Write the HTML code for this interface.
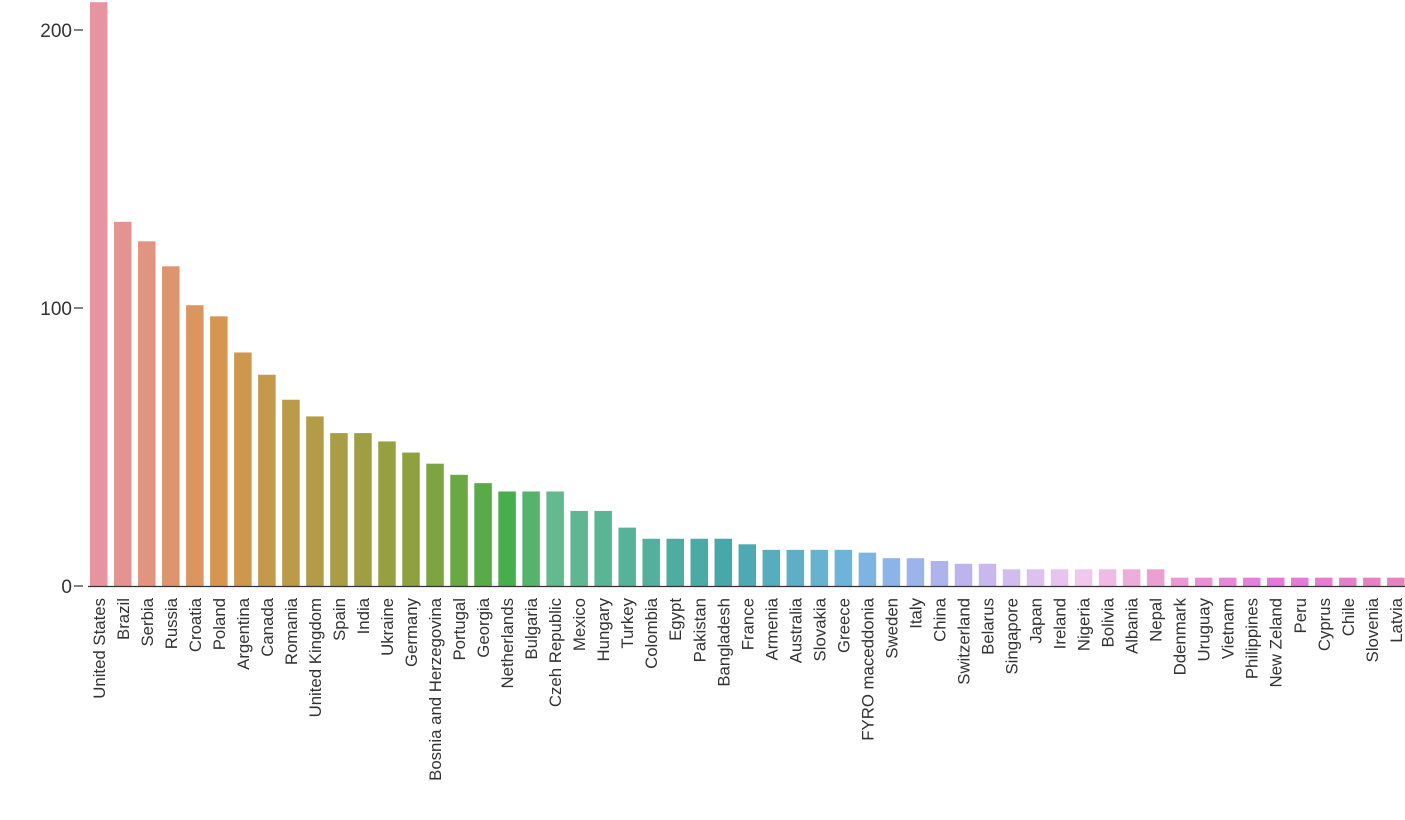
<!DOCTYPE html>
<html><head><meta charset="utf-8"><style>
html,body{margin:0;padding:0;background:#fff;}
svg{display:block;font-family:"Liberation Sans",sans-serif;}
</style></head><body>
<svg id="chart" width="1405" height="820" viewBox="0 0 1405 820"></svg>
<script>
const countries=["United States","Brazil","Serbia","Russia","Croatia","Poland","Argentina","Canada","Romania","United Kingdom","Spain","India","Ukraine","Germany","Bosnia and Herzegovina","Portugal","Georgia","Netherlands","Bulgaria","Czeh Republic","Mexico","Hungary","Turkey","Colombia","Egypt","Pakistan","Bangladesh","France","Armenia","Australia","Slovakia","Greece","FYRO maceddonia","Sweden","Italy","China","Switzerland","Belarus","Singapore","Japan","Ireland","Nigeria","Bolivia","Albania","Nepal","Ddenmark","Uruguay","Vietnam","Philippines","New Zeland","Peru","Cyprus","Chile","Slovenia","Latvia"];
const values=[210,131,124,115,101,97,84,76,67,61,55,55,52,48,44,40,37,34,34,34,27,27,21,17,17,17,17,15,13,13,13,13,12,10,10,9,8,8,6,6,6,6,6,6,6,3,3,3,3,3,3,3,3,3,3];
const yTicks=[0,100,200];
const anchors=[[0,[232,148,160]],[5,[214,150,80]],[13,[142,161,62]],[17,[70,174,74]],[19,[98,186,142]],[26,[70,168,168]],[31,[110,180,218]],[33,[141,180,232]],[36,[190,180,237]],[41,[240,200,238]],[44,[236,160,210]],[49,[230,120,220]],[54,[232,130,190]]];
function colorAt(i){for(let k=0;k<anchors.length-1;k++){const[a,ca]=anchors[k],[b,cb]=anchors[k+1];if(i>=a&&i<=b){const t=(i-a)/(b-a);return `rgb(${ca.map((v,j)=>Math.round(v+(cb[j]-v)*t)).join(',')})`;}}return 'rgb(232,130,190)';}
const svg=document.getElementById('chart');const NS='http://www.w3.org/2000/svg';
const x0=90,step=24.02,bw=17.5,yBase=586,pxPer=2.78;
const y=v=>yBase-v*pxPer;const x=i=>x0+i*step;
function mk(t,a){const e=document.createElementNS(NS,t);for(const k in a)e.setAttribute(k,a[k]);svg.appendChild(e);return e;}
values.forEach((v,i)=>{const r=mk('rect',{x:x(i),y:y(v),width:bw,height:yBase-y(v),fill:colorAt(i)});


const tx=x(i)+bw/2+6;const t=mk('text',{x:0,y:0,transform:`translate(${tx},${yBase+12}) rotate(-90)`,'text-anchor':'end','font-size':'16.8',fill:'#333'});t.textContent=countries[i];

});
const ax=mk('line',{x1:x0-2,x2:1405,y1:yBase+0.5,y2:yBase+0.5,stroke:'#333','stroke-width':1.2});


yTicks.forEach(v=>{const l=mk('line',{x1:74,x2:83,y1:y(v),y2:y(v),stroke:'#333','stroke-width':1.2});


const t=mk('text',{x:72,y:y(v)+7,'text-anchor':'end','font-size':'19',fill:'#333'});t.textContent=v;

});
</script>
</body></html>
